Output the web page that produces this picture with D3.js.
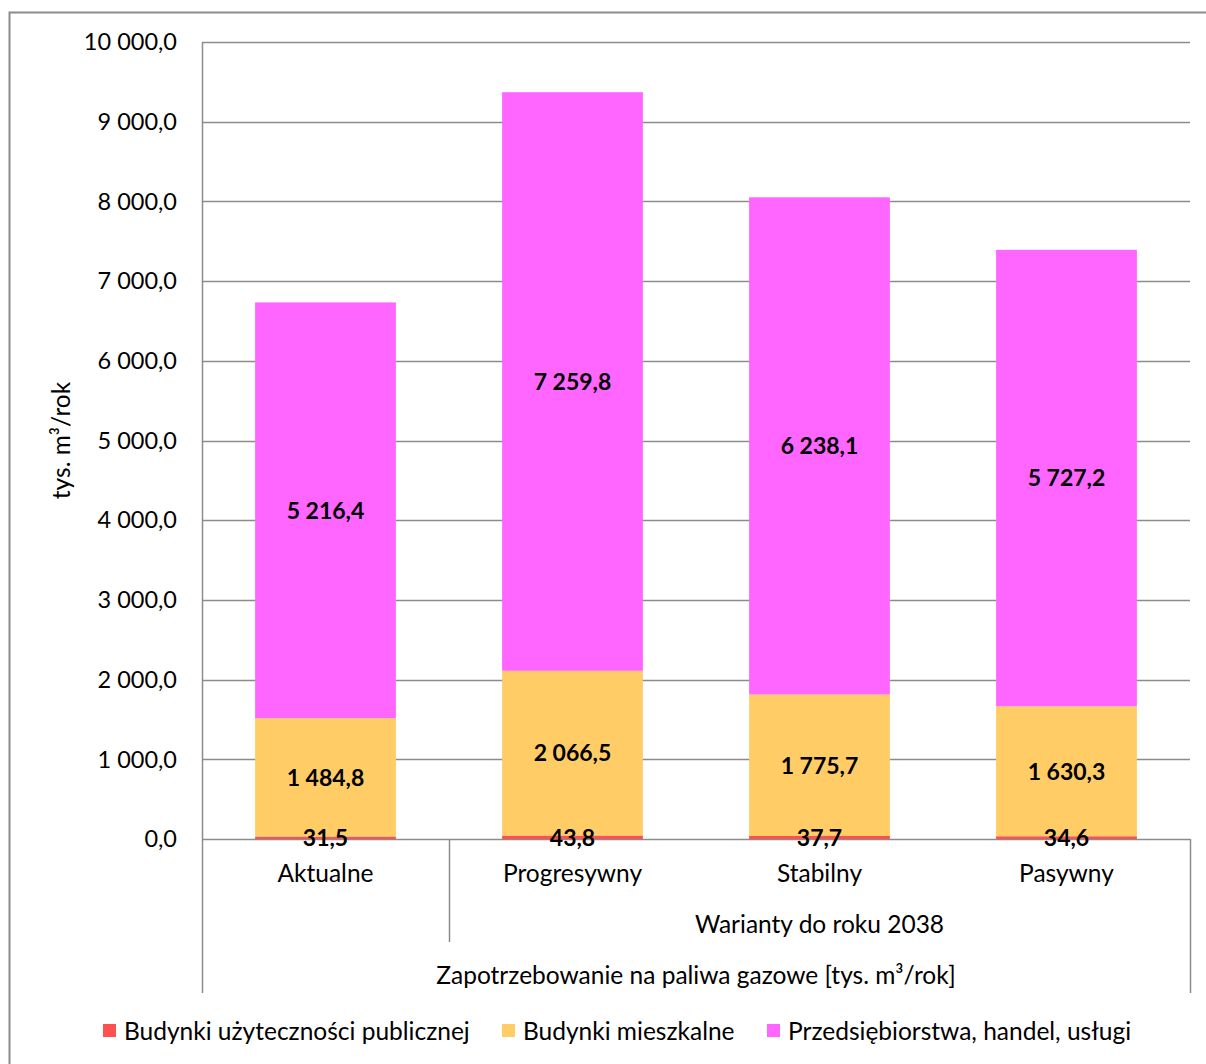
<!DOCTYPE html>
<html>
<head>
<meta charset="utf-8">
<script src="https://cdn.jsdelivr.net/npm/d3@7"></script>
<style>
  body { margin: 0; background: #fff; }
  text { font-family: Lato, "Open Sans", sans-serif; fill: #000; }
</style>
</head>
<body>
<div id="chart"></div>
<script>
// DATA
const categories = ["Aktualne", "Progresywny", "Stabilny", "Pasywny"];
const seriesNames = ["Budynki użyteczności publicznej", "Budynki mieszkalne", "Przedsiębiorstwa, handel, usługi"];
const publiczne = [31.5, 43.8, 37.7, 34.6];
const mieszkalne = [1484.8, 2066.5, 1775.7, 1630.3];
const przedsiebiorstwa = [5216.4, 7259.8, 6238.1, 5727.2];
const yTicks = [0, 1000, 2000, 3000, 4000, 5000, 6000, 7000, 8000, 9000, 10000];
const colors = ["#ff5050", "#ffcc66", "#ff66ff"];

// CONSTANTS
const WIDTH = 1206;
const HEIGHT = 1064;
const PLOT_LEFT = 202, PLOT_RIGHT = 1190, PLOT_TOP = 42, PLOT_BOTTOM = 839;
const GRID = "#8c8c8c";
const FS = 24.5;

const fmt = v => {
  const parts = v.toFixed(1).split(".");
  const intPart = parts[0].replace(/\B(?=(\d{3})+(?!\d))/g, " ");
  return intPart + "," + parts[1];
};

const svg = d3.select("#chart").append("svg")
  .attr("width", WIDTH).attr("height", HEIGHT);

// outer border
svg.append("rect")
  .attr("x", 9.5).attr("y", 12.5)
  .attr("width", 1210).attr("height", 1070)
  .attr("fill", "none").attr("stroke", GRID).attr("stroke-width", 2);

const x = d3.scaleBand().domain(categories).range([PLOT_LEFT, PLOT_RIGHT]).paddingInner(0.43).paddingOuter(0.215);
const y = d3.scaleLinear().domain([0, 10000]).range([PLOT_BOTTOM, PLOT_TOP]);

// gridlines
svg.append("g")
  .selectAll("line")
  .data(yTicks)
  .enter()
  .append("line")
  .attr("x1", PLOT_LEFT).attr("x2", PLOT_RIGHT)
  .attr("y1", d => Math.round(y(d)) + 0.5).attr("y2", d => Math.round(y(d)) + 0.5)
  .attr("stroke", GRID).attr("stroke-width", 1.5);

// y tick labels
svg.append("g")
  .selectAll("text")
  .data(yTicks)
  .enter()
  .append("text")
  .attr("x", 177)
  .attr("y", d => y(d))
  .attr("dy", "0.35em")
  .attr("text-anchor", "end")
  .attr("font-size", 23.5)
  .text(d => fmt(d));

// axis lines and category separators
svg.append("line")
  .attr("x1", PLOT_LEFT + 0.5).attr("x2", PLOT_LEFT + 0.5)
  .attr("y1", PLOT_TOP).attr("y2", 993)
  .attr("stroke", GRID).attr("stroke-width", 1.5);
svg.append("line")
  .attr("x1", PLOT_RIGHT + 0.5).attr("x2", PLOT_RIGHT + 0.5)
  .attr("y1", PLOT_BOTTOM).attr("y2", 993)
  .attr("stroke", GRID).attr("stroke-width", 1.5);
svg.append("line")
  .attr("x1", 449.5).attr("x2", 449.5)
  .attr("y1", PLOT_BOTTOM).attr("y2", 942)
  .attr("stroke", GRID).attr("stroke-width", 1.5);

// stacked bars
const table = categories.map((c, i) => ({
  cat: c, pub: publiczne[i], mie: mieszkalne[i], prz: przedsiebiorstwa[i]
}));
const stack = d3.stack().keys(["pub", "mie", "prz"])(table);

svg.append("g")
  .selectAll("g")
  .data(stack)
  .enter()
  .append("g")
  .attr("fill", (d, i) => colors[i])
  .selectAll("rect")
  .data(d => d)
  .enter()
  .append("rect")
  .attr("x", d => x(d.data.cat))
  .attr("width", x.bandwidth())
  .attr("y", d => y(d[1]))
  .attr("height", d => y(d[0]) - y(d[1]));

// bar value labels (drawn over all bars)
svg.append("g")
  .selectAll("g")
  .data(stack)
  .enter()
  .append("g")
  .selectAll("text")
  .data(d => d)
  .enter()
  .append("text")
  .attr("x", d => x(d.data.cat) + x.bandwidth() / 2)
  .attr("y", d => (y(d[0]) + y(d[1])) / 2)
  .attr("dy", "0.36em")
  .attr("text-anchor", "middle")
  .attr("font-size", 23)
  .attr("font-weight", "bold")
  .text(d => fmt(d[1] - d[0]));

// category labels
svg.append("g")
  .selectAll("text")
  .data(categories)
  .enter()
  .append("text")
  .attr("x", d => x(d) + x.bandwidth() / 2)
  .attr("y", 882)
  .attr("text-anchor", "middle")
  .attr("font-size", FS)
  .text(d => d);

svg.append("text")
  .attr("x", (449 + PLOT_RIGHT) / 2).attr("y", 933)
  .attr("text-anchor", "middle").attr("font-size", FS)
  .text("Warianty do roku 2038");

svg.append("text")
  .attr("x", (PLOT_LEFT + PLOT_RIGHT) / 2).attr("y", 984)
  .attr("text-anchor", "middle").attr("font-size", FS)
  .text("Zapotrzebowanie na paliwa gazowe [tys. m³/rok]");

// y axis title
svg.append("text")
  .attr("transform", `translate(70, ${(PLOT_TOP + PLOT_BOTTOM) / 2}) rotate(-90)`)
  .attr("text-anchor", "middle").attr("font-size", FS)
  .text("tys. m³/rok");

// legend
const legendX = [103, 502, 767];
const legend = svg.append("g")
  .selectAll("g")
  .data(seriesNames)
  .enter()
  .append("g")
  .attr("transform", (d, i) => `translate(${legendX[i]}, 1031)`);
legend.append("rect")
  .attr("x", 0).attr("y", -7).attr("width", 13).attr("height", 13)
  .attr("fill", (d, i) => colors[i]);
legend.append("text")
  .attr("x", 21).attr("dy", "0.35em")
  .attr("font-size", FS)
  .text(d => d);
</script>
</body>
</html>
